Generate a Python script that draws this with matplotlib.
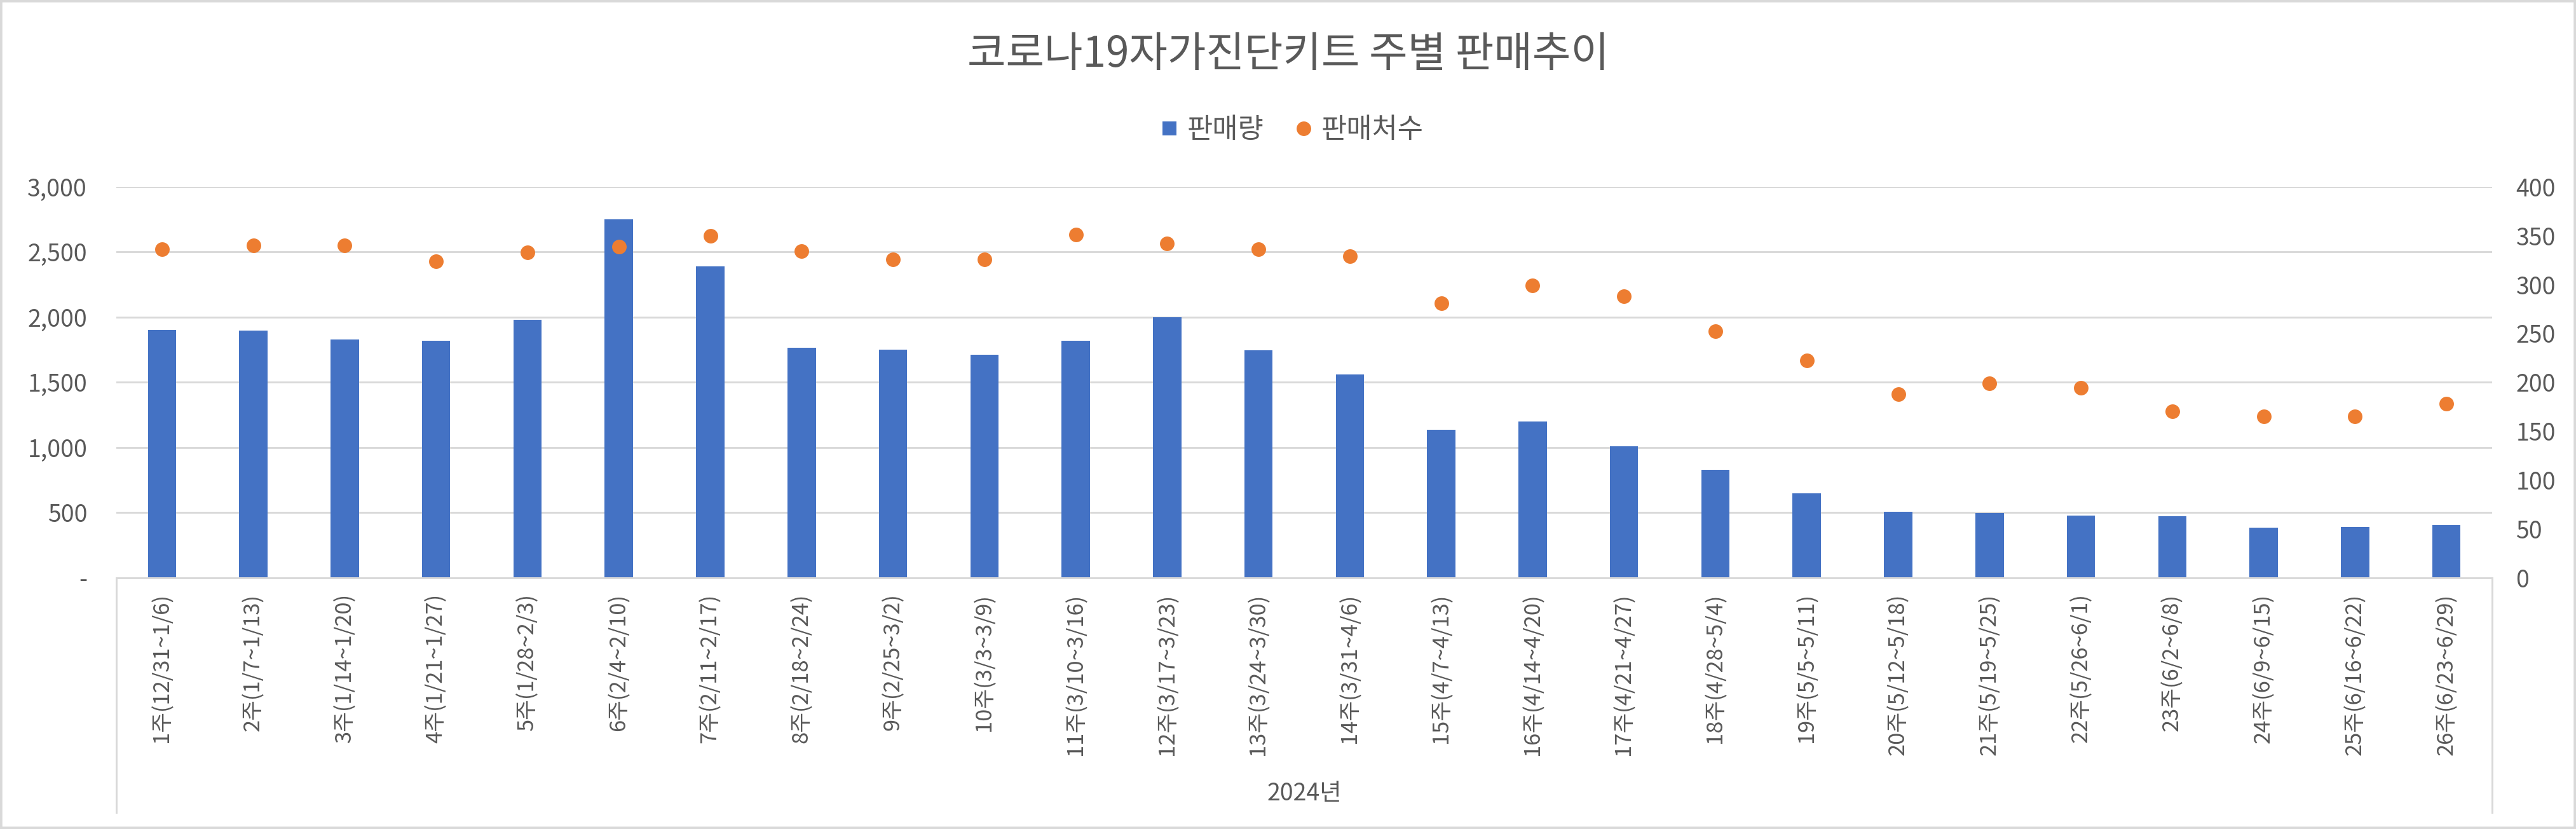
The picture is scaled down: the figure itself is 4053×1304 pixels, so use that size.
import matplotlib.pyplot as plt
import numpy as np
from matplotlib.lines import Line2D
from matplotlib.patches import Rectangle

plt.rcParams['font.family'] = ['Noto Sans CJK KR', 'DejaVu Sans']

weeks = ['1주(12/31~1/6)', '2주(1/7~1/13)', '3주(1/14~1/20)', '4주(1/21~1/27)', '5주(1/28~2/3)',
         '6주(2/4~2/10)', '7주(2/11~2/17)', '8주(2/18~2/24)', '9주(2/25~3/2)', '10주(3/3~3/9)',
         '11주(3/10~3/16)', '12주(3/17~3/23)', '13주(3/24~3/30)', '14주(3/31~4/6)', '15주(4/7~4/13)',
         '16주(4/14~4/20)', '17주(4/21~4/27)', '18주(4/28~5/4)', '19주(5/5~5/11)', '20주(5/12~5/18)',
         '21주(5/19~5/25)', '22주(5/26~6/1)', '23주(6/2~6/8)', '24주(6/9~6/15)', '25주(6/16~6/22)',
         '26주(6/23~6/29)']
year_label = '2024년'

# 판매량 (left axis)
sales = [1903, 1897, 1826, 1817, 1980, 2749, 2388, 1767, 1752, 1710, 1820, 1998, 1743,
         1560, 1133, 1199, 1009, 829, 645, 503, 494, 474, 471, 382, 388, 405]
# 판매처수 (right axis)
stores = [336, 340, 340, 324, 333, 339, 350, 334, 326, 326, 351, 342, 336,
          329, 281, 299, 288, 252, 222, 188, 199, 194, 170, 165, 165, 178]

left_ticks = [0, 500, 1000, 1500, 2000, 2500, 3000]
right_ticks = [0, 50, 100, 150, 200, 250, 300, 350, 400]

blue = '#4472C4'
orange = '#ED7D31'
grid_c = '#D9D9D9'
text_c = '#595959'

fig = plt.figure(figsize=(4053 / 300, 1304 / 300), dpi=300)
ax = fig.add_axes([183 / 4053, 1 - 908.5 / 1304, (3921 - 183) / 4053, (908.5 - 294) / 1304])
ax2 = ax.twinx()

x = np.arange(len(weeks))
ax.bar(x, sales, width=0.31, color=blue, zorder=2)
ax2.plot(x, stores, 'o', color=orange, markersize=5.5, markeredgewidth=0, zorder=3)

ax.set_xlim(-0.5, len(weeks) - 0.5)
ax.set_ylim(0, 3000)
ax2.set_ylim(0, 400)

ax.set_yticks(left_ticks)
ax.set_yticklabels(['-' if v == 0 else f'{v:,}' for v in left_ticks])
ax2.set_yticks(right_ticks)
ax2.set_yticklabels([str(v) for v in right_ticks])

ax.set_xticks(x)
ax.set_xticklabels(weeks, rotation=90, va='top', ha='center')

ax.yaxis.grid(True, color=grid_c, linewidth=0.7, zorder=0)
ax.set_axisbelow(True)

for a in (ax, ax2):
    for s in ['top', 'left', 'right']:
        a.spines[s].set_visible(False)
    a.spines['bottom'].set_color(grid_c)
    a.spines['bottom'].set_linewidth(0.7)
    a.tick_params(length=0, labelsize=9, labelcolor=text_c)
ax.tick_params(axis='y', pad=11)
ax2.tick_params(axis='y', pad=9)
ax.tick_params(axis='x', pad=6, labelsize=8.3)

# group bracket of the multi-level category axis
for xv in (-0.5, len(weeks) - 0.5):
    ax.plot([xv, xv], [0, -0.601], transform=ax.get_xaxis_transform(), clip_on=False,
            color=grid_c, linewidth=0.7)
ax.text(0.5, -0.5525, year_label, transform=ax.transAxes, ha='center', va='center',
        fontsize=9, color=text_c)

fig.text(0.5, 1 - 86 / 1304, '코로나19자가진단키트 주별 판매추이', ha='center', va='center',
         fontsize=15.8, color=text_c)

handles = [Line2D([], [], marker='s', linestyle='none', color=blue, markersize=5.5, markeredgewidth=0),
           Line2D([], [], marker='o', linestyle='none', color=orange, markersize=5.5, markeredgewidth=0)]
fig.legend(handles, ['판매량', '판매처수'], loc='center', bbox_to_anchor=(2033 / 4053, 1 - 204 / 1304),
           ncol=2, frameon=False, fontsize=10.5, labelcolor=text_c, handletextpad=0.33,
           columnspacing=1.13, handlelength=0.6)

fig.patches.append(Rectangle((0, 0), 1, 1, transform=fig.transFigure, fill=False,
                             edgecolor=grid_c, linewidth=1.8))

fig.savefig('out.png', dpi=300, facecolor='white')
